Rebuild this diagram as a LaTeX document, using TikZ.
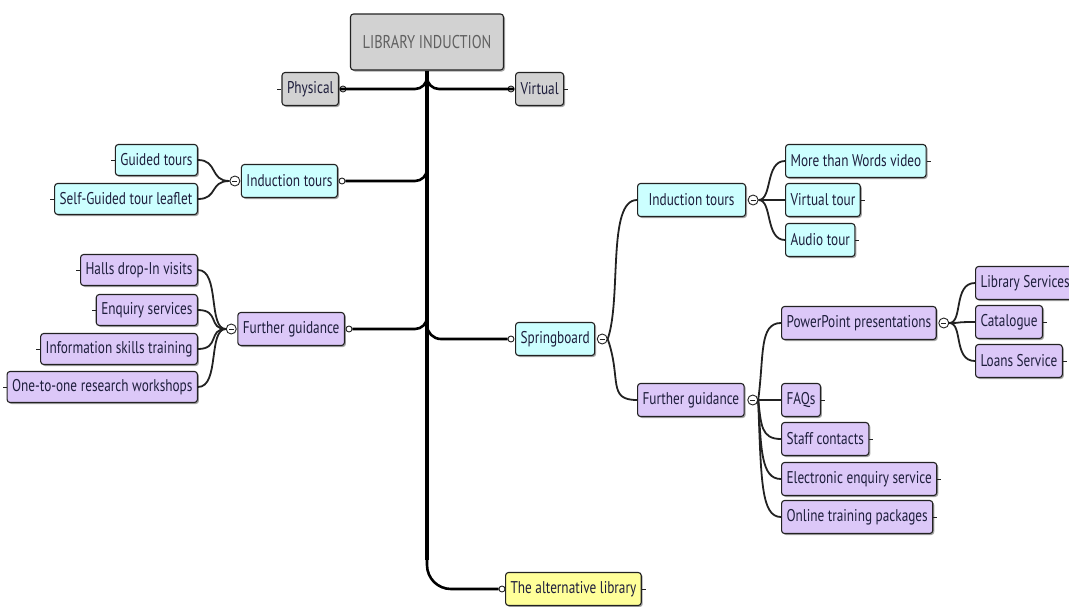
\documentclass[tikz,border=0pt]{standalone}
\usepackage{fontspec}
\setmainfont{PT Sans}[FakeStretch=0.78]
\usetikzlibrary{shadows}
\definecolor{cyanbox}{HTML}{CCFFFF}
\definecolor{purplebox}{HTML}{DCC8F8}
\definecolor{graybox}{HTML}{D2D2D2}
\definecolor{yellowbox}{HTML}{FFFF99}
\definecolor{textc}{HTML}{1E1E3C}
\definecolor{linec}{HTML}{222222}
\begin{document}
\begin{tikzpicture}[x=1pt,y=-1pt,
 box/.style={draw=linec, line width=1.1pt, rounded corners=3pt, minimum height=33pt, inner xsep=5pt,
   font=\fontsize{17}{19}\selectfont, text=textc,
   drop shadow={shadow xshift=1.5pt,shadow yshift=-1.5pt,opacity=0.35,fill=black}},
 cbox/.style={box, fill=cyanbox},
 pbox/.style={box, fill=purplebox},
 gbox/.style={box, fill=graybox},
 ybox/.style={box, fill=yellowbox},
 link/.style={draw=linec, line width=1.8pt},
 branch/.style={draw=black, line width=2.6pt},
 trunkline/.style={draw=black, line width=4.5pt},
 knob/.style={circle, draw=linec, fill=white, line width=0.9pt, inner sep=0pt, minimum size=6pt},
 ctoggle/.style={circle, draw=linec, fill=white, line width=0.9pt, inner sep=0pt, minimum size=10pt,
   path picture={\draw[line width=0.8pt] ([xshift=-2.5pt]path picture bounding box.center) -- ([xshift=2.5pt]path picture bounding box.center);}},
 stub/.style={draw=linec, line width=0.9pt}
]
\useasboundingbox (0,0) rectangle (1069,606);

% nodes
\node[gbox, minimum width=153pt, minimum height=56pt, text=gray!75!black, font=\fontsize{18.5}{21}\selectfont] (root) at (427,42) {LIBRARY INDUCTION};
\node[gbox, anchor=east] (phys) at (339,89) {Physical};
\node[gbox, anchor=west] (virt) at (515,89) {Virtual};

\node[cbox, anchor=east] (lind) at (338,181) {Induction tours};
\node[cbox, anchor=east, minimum height=31pt] (guided) at (198,160) {Guided tours};
\node[cbox, anchor=east, minimum height=31pt] (selfg) at (198,199) {Self-Guided tour leaflet};

\node[pbox, anchor=east] (lfur) at (345,329) {Further guidance};
\node[pbox, anchor=east, minimum height=31pt] (halls) at (198,270) {Halls drop-In visits};
\node[pbox, anchor=east, minimum height=31pt] (enq) at (198,310) {Enquiry services};
\node[pbox, anchor=east, minimum height=31pt] (info) at (198,349) {Information skills training};
\node[pbox, anchor=east, minimum height=31pt] (one) at (198,387) {One-to-one research workshops};

\node[cbox, anchor=west] (spring) at (515,339) {Springboard};
\node[cbox, anchor=west, minimum width=108pt] (rind) at (637,200) {Induction tours};
\node[cbox, anchor=west] (more) at (785,161) {More than Words video};
\node[cbox, anchor=west] (vtour) at (785,200) {Virtual tour};
\node[cbox, anchor=west] (audio) at (785,240) {Audio tour};

\node[pbox, anchor=west] (rfur) at (637,400) {Further guidance};
\node[pbox, anchor=west, minimum width=153pt] (ppt) at (781,323) {PowerPoint presentations};
\node[pbox, anchor=west] (libs) at (975,283) {Library Services};
\node[pbox, anchor=west] (cat) at (975,322) {Catalogue};
\node[pbox, anchor=west] (loans) at (975,361) {Loans Service};
\node[pbox, anchor=west] (faq) at (781,400) {FAQs};
\node[pbox, anchor=west] (staff) at (781,439) {Staff contacts};
\node[pbox, anchor=west] (elec) at (781,479) {Electronic enquiry service};
\node[pbox, anchor=west] (online) at (781,517) {Online training packages};

\node[ybox, anchor=west] (alt) at (505,589) {The alternative library};

% trunk coordinates
\coordinate (ta) at (427,72);
\coordinate (tb) at (427,163);
\coordinate (tc) at (427,311);
\coordinate (td) at (427,318);
\coordinate (te) at (427,560);

% knobs at branch ends
\node[knob] (physk) at ([xshift=4pt]phys.east) {};
\node[knob] (virtk) at ([xshift=-4pt]virt.west) {};
\node[knob] (lindk) at ([xshift=4pt]lind.east) {};
\node[knob] (lfurk) at ([xshift=4pt]lfur.east) {};
\node[knob] (springk) at ([xshift=-4pt]spring.west) {};
\node[knob] (altk) at ([xshift=-3pt]alt.west) {};

% trunk and branches
\draw[trunkline] (root.south) -- (te);
\draw[branch, rounded corners=12pt] (physk.west) -| (ta);
\draw[branch, rounded corners=12pt] (virtk.east) -| (ta);
\draw[branch, rounded corners=12pt] (lindk.east) -| (tb);
\draw[branch, rounded corners=12pt] (lfurk.east) -| (tc);
\draw[branch, rounded corners=14pt] (td) |- (springk.west);
\draw[branch, rounded corners=24pt] (te) |- (altk.west);

% toggles
\node[ctoggle] (ltog) at ([xshift=-6pt]lind.west) {};
\node[ctoggle] (lftog) at ([xshift=-6pt]lfur.west) {};
\node[ctoggle] (stog) at ([xshift=7pt]spring.east) {};
\node[ctoggle] (rtog) at ([xshift=7pt]rind.east) {};
\node[ctoggle] (rftog) at ([xshift=8pt]rfur.east) {};
\node[ctoggle] (ptog) at ([xshift=7pt]ppt.east) {};

% child links
\foreach \c in {guided,selfg}
  \draw[link] (ltog.west) .. controls +(-20,0) and +(20,0) .. (\c.east);
\foreach \c in {halls,enq,info,one}
  \draw[link] (lftog.west) .. controls +(-18,0) and +(22,0) .. (\c.east);
\draw[link] (stog.east) .. controls +(14,-40) and +(-30,0) .. (rind.west);
\draw[link] (stog.east) .. controls +(14,40) and +(-30,0) .. (rfur.west);
\foreach \c in {more,vtour,audio}
  \draw[link] (rtog.east) .. controls +(14,0) and +(-20,0) .. (\c.west);
\foreach \c in {libs,cat,loans}
  \draw[link] (ptog.east) .. controls +(14,0) and +(-22,0) .. (\c.west);
\draw[link] (rftog.east) .. controls +(6,-45) and +(-22,0) .. (ppt.west);
\draw[link] (rftog.east) -- (faq.west);
\draw[link] (rftog.east) .. controls +(3,25) and +(-20,0) .. (staff.west);
\draw[link] (rftog.east) .. controls +(3,50) and +(-20,0) .. (elec.west);
\draw[link] (rftog.east) .. controls +(3,80) and +(-20,0) .. (online.west);

% small stubs on free ends
\foreach \c in {guided,selfg,halls,enq,info,one,phys}
  \draw[stub] (\c.west) -- ++(-4,0);
\foreach \c in {more,vtour,audio,cat,loans,faq,staff,elec,online,alt,virt}
  \draw[stub] (\c.east) -- ++(4,0);
\end{tikzpicture}
\end{document}
